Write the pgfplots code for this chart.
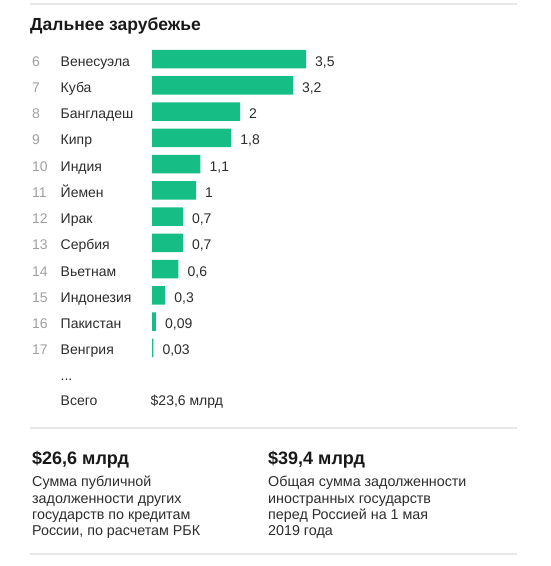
\documentclass[border=0pt]{standalone}
\usepackage{pgfplots}
\pgfplotsset{compat=1.18}
\usepackage{pgfplotstable}
\usepackage{fontspec}
\setmainfont{Liberation Sans}
\definecolor{barg}{RGB}{22,189,133}
\definecolor{numg}{RGB}{160,160,160}
\definecolor{txt}{RGB}{45,45,45}
\definecolor{sep}{RGB}{232,232,232}
\pgfplotstableread{
row val lab
0 3.5 3,5
1 3.2 3,2
2 2 2
3 1.8 1,8
4 1.1 1,1
5 1 1
6 0.7 0,7
7 0.7 0,7
8 0.6 0,6
9 0.3 0,3
10 0.09 0,09
11 0.03 0,03
}\debts
\begin{document}
\begin{tikzpicture}
\path[use as bounding box, fill=white] (0,0) rectangle (550pt,-566pt);
% separators
\draw[sep, line width=1.5pt] (30pt,-4pt) -- (517pt,-4pt);
\draw[sep, line width=1.5pt] (30pt,-428pt) -- (517pt,-428pt);
\draw[sep, line width=1.5pt] (30pt,-554pt) -- (517pt,-554pt);
% title
\node[anchor=base west, inner sep=0pt, font=\fontsize{17.5}{20}\selectfont\bfseries, text=black!90] at (30pt,-30pt) {Дальнее зарубежье};
\begin{axis}[
  hide axis,
  x=44pt, y=26.27pt, y dir=reverse,
  xmin=0, xmax=5, ymin=-0.5, ymax=11.5,
  anchor=origin, at={(152pt,-59pt)},
  clip=false,
  xbar, bar width=18.5pt, bar shift=0pt,
  point meta=explicit symbolic,
  nodes near coords,
  nodes near coords style={anchor=base west, inner sep=0pt, xshift=9pt, yshift=-7pt,
    font=\fontsize{14}{16}\selectfont, text=txt},
]
\addplot[fill=barg, draw=none] table[x=val, y=row, meta=lab] {\debts};
\end{axis}
% row numbers and names
\foreach \i/\n/\c in {0/6/Венесуэла,1/7/Куба,2/8/Бангладеш,3/9/Кипр,4/10/Индия,5/11/Йемен,6/12/Ирак,7/13/Сербия,8/14/Вьетнам,9/15/Индонезия,10/16/Пакистан,11/17/Венгрия}{
  \node[anchor=base west, inner sep=0pt, font=\fontsize{14}{16}\selectfont, text=numg] at (32pt,{-(59+26.27*\i+7)*1pt}) {\n};
  \node[anchor=base west, inner sep=0pt, font=\fontsize{14}{16}\selectfont, text=txt] at (60.5pt,{-(59+26.27*\i+7)*1pt}) {\c};
}
\node[anchor=base west, inner sep=0pt, font=\fontsize{14}{16}\selectfont, text=txt] at (60.5pt,-380pt) {...};
\node[anchor=base west, inner sep=0pt, font=\fontsize{14}{16}\selectfont, text=txt] at (60.5pt,-405pt) {Всего};
\node[anchor=base west, inner sep=0pt, font=\fontsize{14}{16}\selectfont, text=txt] at (150.5pt,-405pt) {\$23,6 млрд};
% bottom blocks
\node[anchor=base west, inner sep=0pt, font=\fontsize{18}{20}\selectfont\bfseries, text=black!90] at (32pt,-464pt) {\$26,6 млрд};
\node[anchor=base west, inner sep=0pt, font=\fontsize{18}{20}\selectfont\bfseries, text=black!90] at (268pt,-464pt) {\$39,4 млрд};
\foreach \k/\a/\b in {0/Сумма публичной/Общая сумма задолженности,1/задолженности других/иностранных государств,2/государств по кредитам/перед Россией на 1 мая,3/{России, по расчетам РБК}/2019 года}{
  \node[anchor=base west, inner sep=0pt, font=\fontsize{14.3}{16}\selectfont, text=txt] at (32pt,{-(486.7+16.3*\k)*1pt}) {\a};
  \node[anchor=base west, inner sep=0pt, font=\fontsize{14.3}{16}\selectfont, text=txt] at (268pt,{-(486.7+16.3*\k)*1pt}) {\b};
}
\end{tikzpicture}
\end{document}
